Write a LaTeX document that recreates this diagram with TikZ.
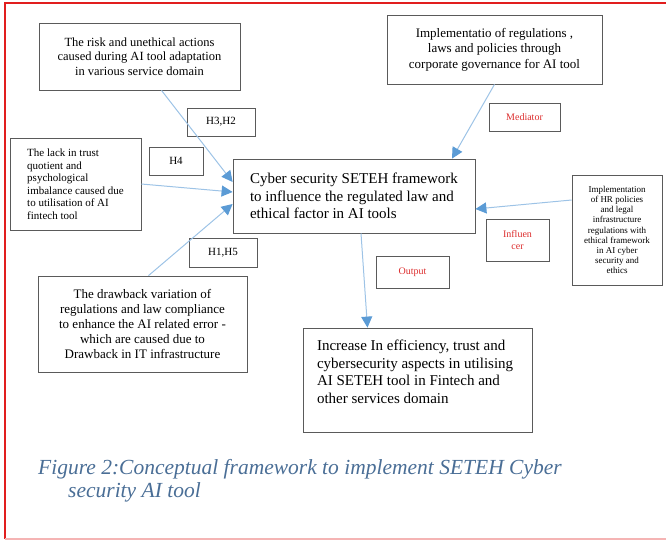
\documentclass[tikz,border=0pt]{standalone}
\usepackage{fontspec}
\setmainfont{Liberation Serif}
\usetikzlibrary{arrows.meta}
\definecolor{boxgray}{RGB}{90,90,90}
\definecolor{linkblue}{RGB}{157,195,230}
\definecolor{tipblue}{RGB}{91,155,213}
\definecolor{rolered}{RGB}{220,45,45}
\definecolor{captionblue}{RGB}{74,110,150}
\definecolor{framered}{RGB}{225,30,30}
\definecolor{framepink}{RGB}{245,180,180}

\begin{document}
\begin{tikzpicture}[%
x=1pt,y=-1pt,
factor/.style={draw=boxgray,line width=0.8pt,inner sep=0pt,align=center},
hyp/.style={factor,font=\fontsize{11}{13}\selectfont},
role/.style={factor,text=rolered,font=\fontsize{10}{12}\selectfont},
link/.style={draw=linkblue,line width=1pt,-{Triangle[length=11pt,width=11pt,color=tipblue]}},
]
\useasboundingbox (0,0) rectangle (666,541);
%% frame;
\draw [framered, line width=2pt] (666,3) -- (5,3) -- (5,539);
\draw [framepink, line width=2pt] (5,539) -- (666,539);
%% factor;
\node [factor, minimum width=201pt, minimum height=67pt, font=\fontsize{12.5}{14.5}\selectfont] (risk) at (139.5,56.5)
  {The risk and unethical actions\\caused during AI tool adaptation\\in various service domain};
%% factor;
\node [factor, minimum width=215pt, minimum height=69pt, font=\fontsize{13}{15.5}\selectfont] (govern) at (494.5,49.5)
  {Implementatio of regulations ,\\laws and policies through\\corporate governance for AI tool};
%% factor;
\node [factor, align=left, minimum width=131pt, minimum height=92pt, font=\fontsize{11}{12.5}\selectfont] (trust) at (75.5,184)
  {The lack in trust\\quotient and\\psychological\\imbalance caused due\\to utilisation of AI\\fintech tool};
%% factor;
\node [factor, align=left, minimum width=242pt, minimum height=74pt, font=\fontsize{15}{17.5}\selectfont] (cyber) at (354,196)
  {Cyber security SETEH framework\\to influence the regulated law and\\ethical factor in AI tools};
%% factor;
\node [factor, minimum width=209pt, minimum height=96pt, font=\fontsize{13}{15}\selectfont] (drawback) at (142.5,324)
  {The drawback variation of\\regulations and law compliance\\to enhance the AI related error -\\which are caused due to\\Drawback in IT infrastructure};
%% factor;
\node [factor, minimum width=90pt, minimum height=110pt, font=\fontsize{9}{10.1}\selectfont] (hrpolicy) at (617,230)
  {Implementation\\of HR policies\\and legal\\infrastructure\\regulations with\\ethical framework\\in AI cyber\\security and\\ethics};
%% factor;
\node [factor, inner xsep=14pt, inner ysep=12pt, font=\fontsize{15}{17.5}\selectfont] (outcome) at (417.5,380)
  {\parbox[c][80pt][t]{201pt}{\raggedright Increase In efficiency, trust and\\cybersecurity aspects in utilising\\AI SETEH tool in Fintech and\\other services domain}};
%% label;
\node [hyp, minimum width=68pt, minimum height=28pt] (hthree) at (221,122) {H3,H2};
\node [hyp, minimum width=54pt, minimum height=28pt] (hfour) at (176,161) {H4};
\node [hyp, minimum width=68pt, minimum height=29pt] (hone) at (223,252.5) {H1,H5};
%% label;
\node [role, minimum width=71pt, minimum height=28pt] (mediator) at (524.5,117) {Mediator};
\node [role, minimum width=73pt, minimum height=32pt] (output) at (412.5,272) {Output};
\node [role, minimum width=63pt, minimum height=42pt] (influencer) at (517.5,240) {Influen\\cer};
%% arrow;
\draw [link] ([xshift=22pt]risk.south) -- ([yshift=14pt]cyber.west);
\draw [link] (trust.east) -- ([yshift=4pt]cyber.west);
\draw [link] ([xshift=6pt]drawback.north) -- ([yshift=-8pt]cyber.west);
\draw [link] (govern.south) -- ([xshift=98pt]cyber.north);
\draw [link] ([yshift=30pt]hrpolicy.west) -- ([yshift=-13pt]cyber.east);
\draw [link] ([xshift=7pt]cyber.south) -- ([xshift=-50pt]outcome.north);
%% caption;
\node [anchor=north west, inner sep=0pt, align=left, text=captionblue, font=\fontsize{21.5}{23}\selectfont\itshape] (caption) at (38,459)
  {Figure 2:Conceptual framework to implement SETEH Cyber\\\hspace*{30pt}security AI tool};
\end{tikzpicture}
\end{document}
